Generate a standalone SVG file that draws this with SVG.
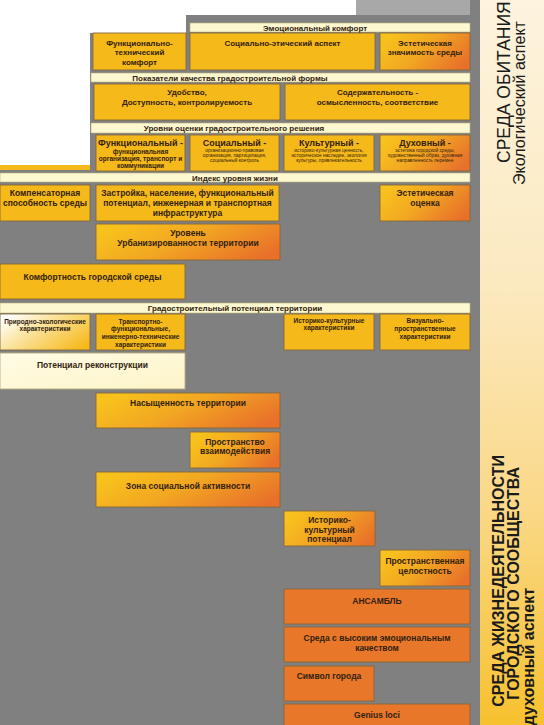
<svg xmlns="http://www.w3.org/2000/svg" width="544" height="725" viewBox="0 0 544 725">
<style>
.bar{fill:#fdf8cf;stroke:#b8ae80;stroke-width:0.6}
.y{fill:#f6b91a;stroke:#86683a;stroke-width:0.9}
.g{fill:url(#yo);stroke:#86683a;stroke-width:0.9}
.o{fill:#e8772a;stroke:#86683a;stroke-width:0.9}
.w{fill:url(#wy);stroke:#86683a;stroke-width:0.9}
.c{fill:url(#cr);stroke:#b8ae80;stroke-width:0.9}
text{font-family:"Liberation Sans",Arial,sans-serif;font-weight:bold;fill:#33220f;text-anchor:middle}
.f8{font-size:8px}
.f85{font-size:8.5px}
.f9{font-size:9px}
.f65{font-size:6.5px}
.f5{font-size:4.8px;font-weight:normal}
.side{font-weight:normal;fill:#1a1a1a}
.sideb{font-weight:bold;fill:#1a1a1a}
</style>
<defs>
<linearGradient id="yo" x1="0" y1="0.3" x2="1" y2="0.7">
<stop offset="0" stop-color="#f8c21c"/>
<stop offset="0.45" stop-color="#f2a722"/>
<stop offset="1" stop-color="#e8702a"/>
</linearGradient>
<linearGradient id="wy" x1="0" y1="0.2" x2="1" y2="0.8">
<stop offset="0" stop-color="#ffffff"/>
<stop offset="0.35" stop-color="#fbe6a6"/>
<stop offset="1" stop-color="#f6b91a"/>
</linearGradient>
<linearGradient id="cr" x1="0" y1="0" x2="1" y2="1">
<stop offset="0" stop-color="#fffce6"/>
<stop offset="1" stop-color="#fdf4c8"/>
</linearGradient>
<linearGradient id="panel" x1="0" y1="0" x2="0" y2="1">
<stop offset="0" stop-color="#fdf3de"/>
<stop offset="0.4" stop-color="#fbe9bf"/>
<stop offset="0.7" stop-color="#fad888"/>
<stop offset="1" stop-color="#f7c12e"/>
</linearGradient>
</defs>

<g id="background">
<rect x="0" y="0" width="544" height="725" fill="#808080"/>
<polygon points="0,0 356,0 356,15 186,15 186,33 90,33 90,165 0,165" fill="#ffffff"/>
<rect x="356" y="0" width="114" height="15" fill="#a8a8a8"/>
<rect x="0" y="165" width="90" height="5" fill="#f6b91a"/>
</g>

<g id="side-panel">
<rect x="480" y="0" width="64" height="725" fill="url(#panel)"/>
<text class="side" transform="translate(510,163) rotate(-90)" style="text-anchor:start;font-size:17.5px">СРЕДА  ОБИТАНИЯ</text>
<text class="side" transform="translate(525,185) rotate(-90)" style="text-anchor:start;font-size:16px">Экологический аспект</text>
<text class="sideb" transform="translate(504,455) rotate(-90)" style="text-anchor:end;font-size:16px">СРЕДА ЖИЗНЕДЕЯТЕЛЬНОСТИ</text>
<text class="sideb" transform="translate(519,467) rotate(-90)" style="text-anchor:end;font-size:16px">ГОРОДСКОГО СООБЩЕСТВА</text>
<text class="sideb" transform="translate(534,588) rotate(-90)" style="text-anchor:end;font-size:16px">духовный аспект</text>
</g>

<g id="bar-emotional"><rect class="bar" x="190" y="23" width="280" height="9"/><text class="f8" x="315" y="30.5">Эмоциональный  комфорт</text></g>
<g id="func-tech"><rect class="y" x="93" y="33" width="93" height="37"/><text class="f8" x="139.5" y="45.5">Функционально-</text><text class="f8" x="139.5" y="55">технический</text><text class="f8" x="139.5" y="64.5">комфорт</text></g>
<g id="soc-ethic"><rect class="y" x="190" y="33" width="185" height="37"/><text class="f8" x="282.5" y="45.5">Социально-этический аспект</text></g>
<g id="aesthetic-sig"><rect class="g" x="380" y="33" width="90" height="37"/><text class="f8" x="425" y="45.5">Эстетическая</text><text class="f8" x="425" y="55">значимость среды</text></g>

<g id="bar-indicators"><rect class="bar" x="91" y="73" width="379" height="9"/><text class="f8" x="230" y="80.5">Показатели качества градостроительной формы</text></g>
<g id="convenience"><rect class="y" x="94" y="84" width="186" height="36"/><text class="f8" x="187" y="95">Удобство,</text><text class="f8" x="187" y="104.5">Доступность, контролируемость</text></g>
<g id="content"><rect class="y" x="285" y="84" width="185" height="36"/><text class="f8" x="377.5" y="95">Содержательность -</text><text class="f8" x="377.5" y="104.5">осмысленность, соответствие</text></g>

<g id="bar-levels"><rect class="bar" x="91" y="123" width="379" height="10"/><text class="f8" x="234" y="130.5">Уровни оценки градостроительного решения</text></g>
<g id="lvl-func"><rect class="y" x="96" y="135" width="89" height="36"/><text class="f9" x="140.5" y="146">Функциональный  -</text><text class="f65" x="140.5" y="153.5">функциональная</text><text class="f65" x="140.5" y="160.5">организация, транспорт и</text><text class="f65" x="140.5" y="168">коммуникации</text></g>
<g id="lvl-social"><rect class="y" x="190" y="135" width="89" height="36"/><text class="f9" x="234.5" y="146">Социальный  -</text><text class="f5" x="234.5" y="152">организационно-правовая</text><text class="f5" x="234.5" y="157">организация, партиципация,</text><text class="f5" x="234.5" y="162">социальный контроль</text></g>
<g id="lvl-culture"><rect class="y" x="284" y="135" width="90" height="36"/><text class="f9" x="329" y="146">Культурный  -</text><text class="f5" x="329" y="152">историко-культурная ценность,</text><text class="f5" x="329" y="157">историческое наследие, экология</text><text class="f5" x="329" y="162">культуры, привлекательность</text></g>
<g id="lvl-spirit"><rect class="g" x="380" y="135" width="90" height="36"/><text class="f9" x="425" y="146">Духовный  -</text><text class="f5" x="425" y="152">эстетика городской среды,</text><text class="f5" x="425" y="157">художественный образ, духовная</text><text class="f5" x="425" y="162">направленность перемен</text></g>

<g id="bar-index"><rect class="bar" x="0" y="173" width="470" height="9"/><text class="f8" x="235" y="180.5">Индекс уровня жизни</text></g>
<g id="compens"><rect class="y" x="0" y="185" width="90" height="36"/><text class="f85" x="45" y="196">Компенсаторная</text><text class="f85" x="45" y="206">способность среды</text></g>
<g id="building"><rect class="y" x="96" y="185" width="183" height="36"/><text class="f85" x="187.5" y="196">Застройка, население, функциональный</text><text class="f85" x="187.5" y="206">потенциал, инженерная и транспортная</text><text class="f85" x="187.5" y="216">инфраструктура</text></g>
<g id="aesthetic-eval"><rect class="g" x="380" y="185" width="90" height="36"/><text class="f85" x="425" y="196">Эстетическая</text><text class="f85" x="425" y="206">оценка</text></g>

<g id="urban"><rect class="g" x="96" y="224" width="184" height="36"/><text class="f85" x="188" y="236">Уровень</text><text class="f85" x="188" y="246">Урбанизированности территории</text></g>
<g id="comfort"><rect class="y" x="0" y="264" width="185" height="35"/><text class="f85" x="92.5" y="280">Комфортность городской среды</text></g>

<g id="bar-potential"><rect class="bar" x="0" y="303" width="470" height="10"/><text class="f8" x="235" y="310.5">Градостроительный потенциал территории</text></g>
<g id="nature"><rect class="w" x="0" y="314" width="90" height="36"/><text class="f65" x="45" y="323.5">Природно-экологические</text><text class="f65" x="45" y="330.5">характеристики</text></g>
<g id="transport"><rect class="y" x="96" y="314" width="89" height="36"/><text class="f65" x="140.5" y="323.5">Транспортно-</text><text class="f65" x="140.5" y="331">функциональные,</text><text class="f65" x="140.5" y="339">инженерно-технические</text><text class="f65" x="140.5" y="346.5">характеристики</text></g>
<g id="hist-cult-char"><rect class="y" x="284" y="314" width="90" height="36"/><text class="f65" x="329" y="322.5">Историко-культурные</text><text class="f65" x="329" y="330">характеристики</text></g>
<g id="visual"><rect class="y" x="380" y="314" width="90" height="36"/><text class="f65" x="425" y="322.5">Визуально-</text><text class="f65" x="425" y="330.5">пространственные</text><text class="f65" x="425" y="339">характеристики</text></g>

<g id="reconstruction"><rect class="c" x="0" y="353" width="185" height="36"/><text class="f85" x="92.5" y="368">Потенциал реконструкции</text></g>
<g id="saturation"><rect class="g" x="96" y="393" width="184" height="35"/><text class="f85" x="188" y="406">Насыщенность территории</text></g>
<g id="interaction"><rect class="g" x="190" y="432" width="90" height="36"/><text class="f85" x="235" y="445">Пространство</text><text class="f85" x="235" y="454">взаимодействия</text></g>
<g id="social-zone"><rect class="g" x="96" y="472" width="184" height="35"/><text class="f85" x="188" y="489">Зона социальной активности</text></g>
<g id="hist-cult-pot"><rect class="g" x="284" y="511" width="91" height="35"/><text class="f85" x="329.5" y="523">Историко-</text><text class="f85" x="329.5" y="533">культурный</text><text class="f85" x="329.5" y="542">потенциал</text></g>
<g id="integrity"><rect class="g" x="380" y="550" width="90" height="36"/><text class="f85" x="425" y="564">Пространственная</text><text class="f85" x="425" y="574">целостность</text></g>
<g id="ensemble"><rect class="o" x="284" y="589" width="186" height="35"/><text class="f85" x="377" y="604">АНСАМБЛЬ</text></g>
<g id="emotional-env"><rect class="o" x="284" y="627" width="186" height="35"/><text class="f85" x="377" y="641">Среда с высоким эмоциональным</text><text class="f85" x="377" y="651">качеством</text></g>
<g id="city-symbol"><rect class="o" x="284" y="666" width="90" height="35"/><text class="f85" x="329" y="679">Символ города</text></g>
<g id="genius-loci"><rect class="o" x="284" y="704" width="186" height="30"/><text class="f85" x="377" y="718">Genius loci</text></g>

<g id="connectors"/>
</svg>
